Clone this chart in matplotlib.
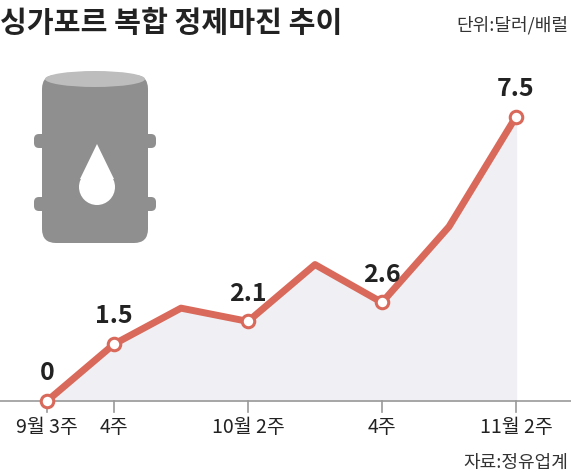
import matplotlib
matplotlib.use("Agg")
import matplotlib.pyplot as plt
from matplotlib.patches import FancyBboxPatch, Ellipse, Polygon, Circle
import numpy as np

plt.rcParams['font.family'] = ['Noto Sans CJK KR', 'DejaVu Sans']

values = [0, 1.5, 2.45, 2.1, 3.6, 2.6, 4.6, 7.5]
labeled = [0, 1, 3, 5, 7]
tick_pos = [0, 1, 3, 5, 7]
tick_labels = ["9월 3주", "4주", "10월 2주", "4주", "11월 2주"]
red = "#d9695a"

fig = plt.figure(figsize=(5.71, 4.77), dpi=100)
W, H = 571, 477
deco = fig.add_axes([0, 0, 1, 1])
deco.set_xlim(0, W); deco.set_ylim(H, 0); deco.axis('off')

ax = fig.add_axes([0, 1 - 402 / H, 1, (402 - 60) / H])
ax.set_xlim(-47 / 67, 7 + 55 / 67)
ax.set_ylim(0, 342 / 37.9)
ax.axis('off')
x = np.arange(len(values))
ax.fill_between(x, values, 0, color="#f0f0f4", zorder=1)
ax.plot(x, values, color=red, lw=5, zorder=3, clip_on=False, solid_capstyle='round')
ax.plot(x[labeled], np.array(values)[labeled], 'o', ms=9, mfc='white', mec=red, mew=2.2,
        zorder=4, clip_on=False)
for i in labeled:
    ax.annotate(f"{values[i]:g}", (i, values[i]), xytext=(0, 12), textcoords='offset points',
                ha='center', va='bottom', fontsize=18, fontweight='bold', color='#222')
ax.axhline(0, color='#999', lw=1.2, zorder=2, clip_on=False)
for t, l in zip(tick_pos, tick_labels):
    ax.plot([t, t], [0, -0.3], color='#999', lw=1.2, clip_on=False)
    ax.text(t, -0.4, l, ha='center', va='top', fontsize=14, color='#222')

fig.text(0.0, 0.952, "싱가포르 복합 정제마진 추이", fontsize=21, fontweight='bold',
         color='#222', va='center', ha='left')
fig.text(0.995, 0.948, "단위:달러/배럴", fontsize=13, color='#333', va='center', ha='right')
fig.text(0.995, 0.03, "자료:정유업계", fontsize=13, color='#333', va='center', ha='right')

g = "#8f8f8f"
deco.add_patch(FancyBboxPatch((42, 76), 106, 168, boxstyle="round,pad=0,rounding_size=14", fc=g, ec='none'))
deco.add_patch(Ellipse((95, 80), 100, 16, fc='#bdbdbd', ec='none'))
for yy in (142, 205):
    deco.add_patch(FancyBboxPatch((34, yy - 7), 122, 14, boxstyle="round,pad=0,rounding_size=5", fc=g, ec='none'))
deco.add_patch(Polygon([[97, 145], [80, 180], [114, 180]], closed=True, fc='white', ec='none'))
deco.add_patch(Circle((97, 188), 18, fc='white', ec='none'))

fig.savefig("out.png", dpi=100)
